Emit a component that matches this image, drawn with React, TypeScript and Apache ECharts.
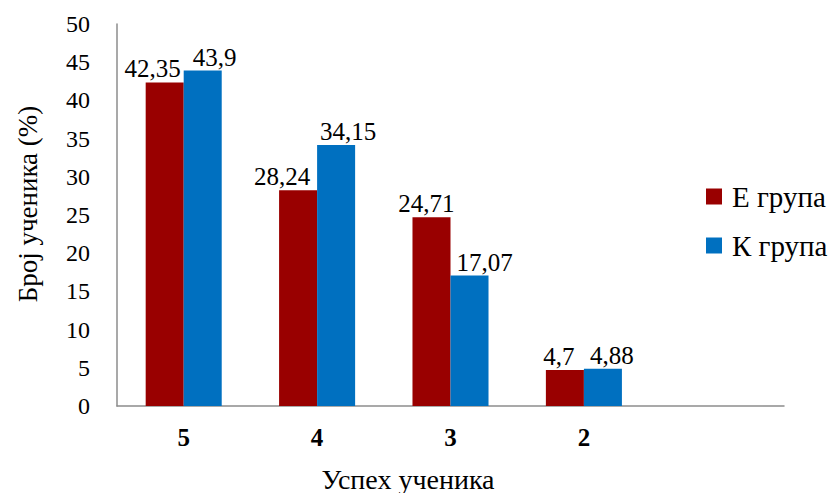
import React, { useEffect, useRef } from "react";
import * as echarts from "echarts";

// Grade categories (the last slot is intentionally empty)
const categories = ["5", "4", "3", "2", ""];
const eGroup = [42.35, 28.24, 24.71, 4.7, null];
const kGroup = [43.9, 34.15, 17.07, 4.88, null];
const yTicks = { min: 0, max: 50, interval: 5 };

// horizontal nudges that keep neighbouring value labels apart
const eLabelShift = [-12, -16, -5, -6, 0];
const kLabelShift = [12, 12, 15, 9, 0];

const FONT = "Liberation Serif";

const fmt = (v: number) => String(v).replace(".", ",");

const toBarData = (vals: (number | null)[], shifts: number[]) =>
  vals.map((v, i) => ({ value: v, label: { offset: [shifts[i], 0] } }));

export default function App() {
  const ref = useRef<HTMLDivElement>(null);

  useEffect(() => {
    if (!ref.current) return;
    const chart = echarts.init(ref.current, undefined, { renderer: "svg" });
    const labelStyle = {
      show: true,
      position: "top" as const,
      distance: 1,
      fontFamily: FONT,
      fontSize: 25,
      color: "#000",
      formatter: (p: any) => (p.value == null ? "" : fmt(p.value)),
    };
    chart.setOption({
      animation: false,
      textStyle: { fontFamily: FONT },
      grid: { left: 117, right: 51, top: 24, bottom: 87 },
      legend: {
        orient: "vertical",
        left: 706,
        top: 182,
        padding: 0,
        itemWidth: 16,
        itemHeight: 16,
        itemGap: 20,
        icon: "rect",
        textStyle: {
          fontFamily: FONT,
          fontSize: 29,
          color: "#000",
          padding: [0, 0, 0, 5],
        },
        data: ["Е група", "К група"],
      },
      xAxis: {
        type: "category",
        data: categories,
        axisLine: { lineStyle: { color: "#8c8c8c", width: 1.5 } },
        axisTick: { show: false },
        axisLabel: {
          margin: 19,
          fontFamily: FONT,
          fontSize: 25,
          fontWeight: "bold",
          color: "#000",
        },
      },
      yAxis: {
        type: "value",
        min: yTicks.min,
        max: yTicks.max,
        interval: yTicks.interval,
        axisLine: { show: true, lineStyle: { color: "#8c8c8c", width: 1.5 } },
        axisTick: { show: false },
        splitLine: { show: false },
        axisLabel: {
          margin: 27,
          fontFamily: FONT,
          fontSize: 24,
          color: "#000",
        },
      },
      graphic: [
        {
          type: "text",
          x: 408,
          y: 479,
          style: {
            text: "Успех ученика",
            fontFamily: FONT,
            fontSize: 28,
            fill: "#000",
            align: "center",
            verticalAlign: "middle",
          },
        },
        {
          type: "text",
          x: 28,
          y: 204,
          rotation: Math.PI / 2,
          style: {
            text: "Број ученика (%)",
            fontFamily: FONT,
            fontSize: 27,
            fill: "#000",
            align: "center",
            verticalAlign: "middle",
          },
        },
      ],
      series: [
        {
          name: "Е група",
          type: "bar",
          data: toBarData(eGroup, eLabelShift),
          barGap: "0%",
          barCategoryGap: "43%",
          itemStyle: { color: "#990000" },
          label: labelStyle,
        },
        {
          name: "К група",
          type: "bar",
          data: toBarData(kGroup, kLabelShift),
          itemStyle: { color: "#0070C0" },
          label: labelStyle,
        },
      ],
    });
    return () => chart.dispose();
  }, []);

  return <div ref={ref} style={{ width: 835, height: 493, position: "absolute", left: 0, top: 0 }} />;
}
